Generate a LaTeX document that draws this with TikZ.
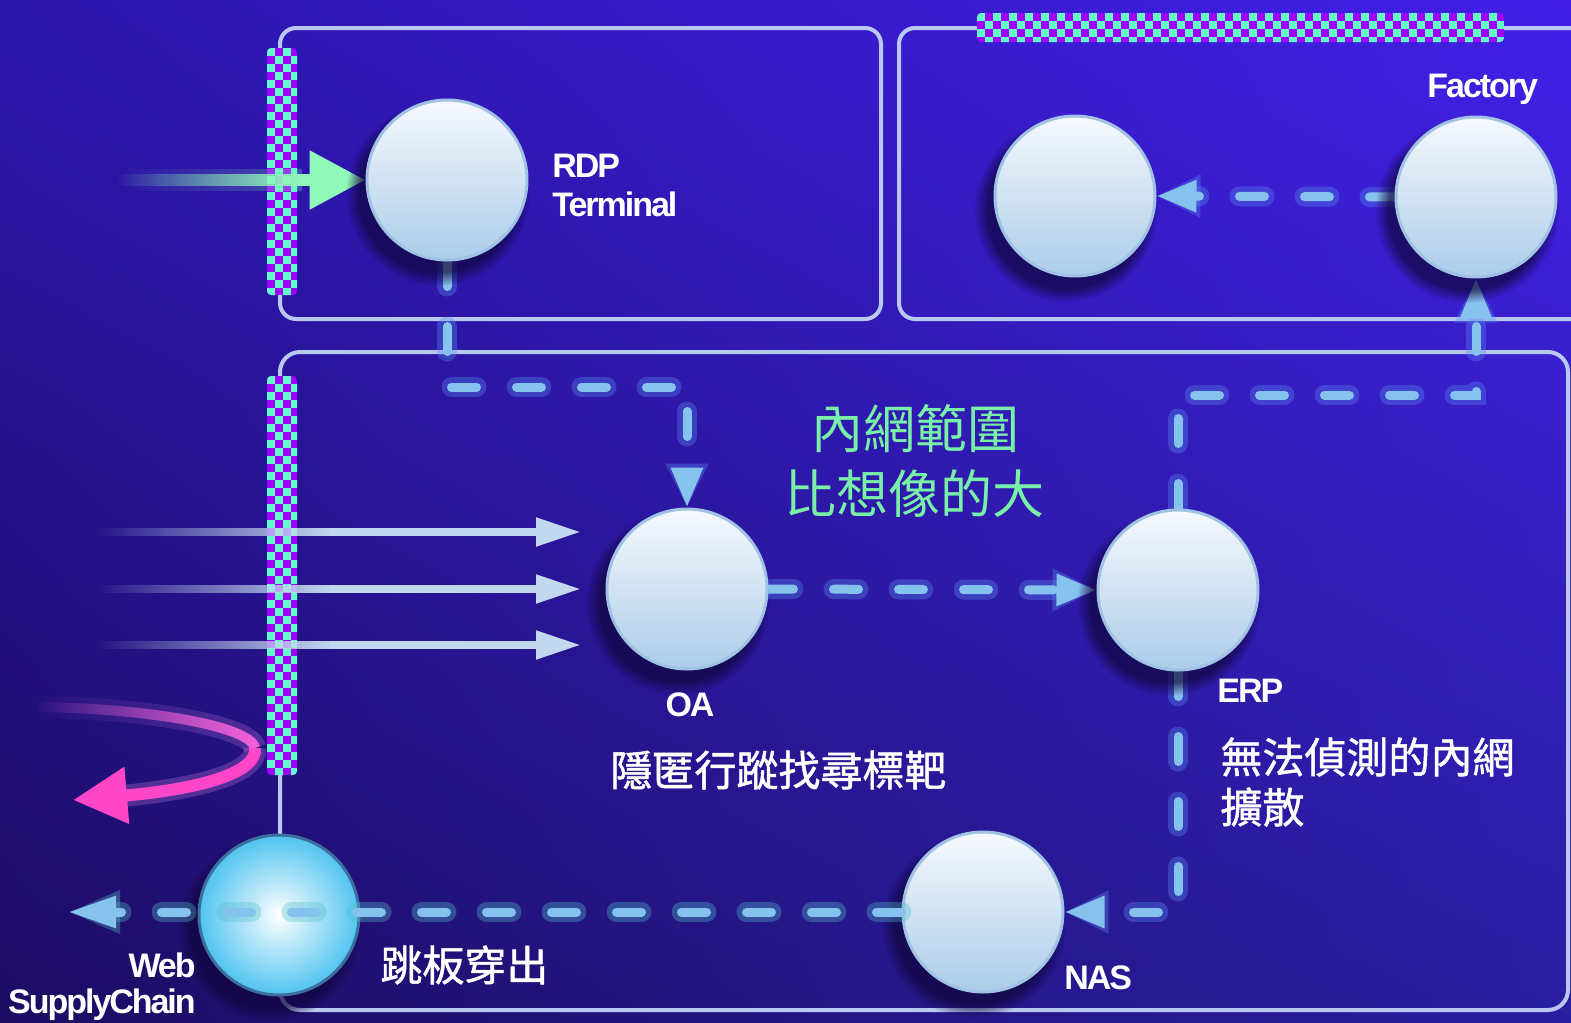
\documentclass[tikz,border=0pt]{standalone}
\usepackage{fontspec}
\setmainfont{Liberation Sans}
\newfontfamily\lab[LetterSpace=-6]{Liberation Sans}
\newfontfamily\cjk{Noto Sans CJK TC}
\newfontfamily\cjkb[FakeBold=1.2]{Noto Sans CJK TC}
\usetikzlibrary{arrows.meta,fadings,shadows,shadings}
\pgfdeclarelayer{back}
\pgfdeclarelayer{lines}
\pgfdeclarelayer{front}
\pgfsetlayers{back,lines,main,front}
\definecolor{bgUL}{RGB}{44,21,172}
\definecolor{bgUR}{RGB}{66,32,232}
\definecolor{bgLL}{RGB}{28,12,98}
\definecolor{bgLR}{RGB}{42,30,160}
\definecolor{boxc}{RGB}{184,200,240}
\definecolor{conn}{RGB}{134,194,238}
\definecolor{glowc}{RGB}{90,140,240}
\definecolor{glowt}{RGB}{80,190,200}
\definecolor{mint}{RGB}{144,248,184}
\definecolor{aqua}{RGB}{98,255,204}
\definecolor{purp}{RGB}{160,0,255}
\definecolor{greentext}{RGB}{120,240,168}
\definecolor{warr}{RGB}{194,216,238}
\definecolor{pinkc}{RGB}{255,70,200}
\definecolor{pinkl}{RGB}{230,140,240}
\definecolor{nodetop}{RGB}{246,249,253}
\definecolor{nodebot}{RGB}{172,204,233}
\definecolor{nodeedge}{RGB}{160,194,228}
\definecolor{webout}{RGB}{80,196,240}
\definecolor{webedge}{RGB}{60,110,160}
\definecolor{shadowc}{RGB}{16,6,60}
\tikzfading[name=fadeR, left color=transparent!100, right color=transparent!0]
\newcommand\chkbar[4]{%
  \begin{scope}
    \clip[rounded corners=2pt] (#1,#2) rectangle ++(#3,#4);
    \fill[purp] (#1,#2) rectangle ++(#3,#4);
    \pgfmathtruncatemacro\ncols{ceil(#3/8)-1}
    \pgfmathtruncatemacro\nrows{ceil(#4/8)-1}
    \foreach \i in {0,...,\ncols}{\foreach \j in {0,...,\nrows}{%
      \pgfmathtruncatemacro\kk{mod(\i+\j,2)}%
      \ifnum\kk=0 \fill[aqua] ({#1+8*\i},{#2+8*\j}) rectangle ++(8,8);\fi}}
  \end{scope}}
\tikzset{
  sphere/.style={circle, minimum size=80pt, inner sep=0pt, top color=nodetop,
    bottom color=nodebot, draw=nodeedge, line width=1.5pt,
    circular drop shadow={shadow xshift=-4pt, shadow yshift=-6pt, shadow scale=1.15, fill=shadowc, opacity=0.7}},
  websphere/.style={circle, minimum size=80pt, inner sep=0pt, inner color=white,
    outer color=webout, draw=webedge, line width=1.5pt,
    circular drop shadow={shadow xshift=-4pt, shadow yshift=-6pt, shadow scale=1.15, fill=shadowc, opacity=0.7}},
  zone/.style={draw=boxc, line width=2pt, rounded corners=8pt},
  link/.style={draw=conn, line width=4.5pt, line cap=round, dash pattern=on 12.5pt off 20pt,
    -{Triangle[length=20pt,width=15pt]}},
  linkglow/.style={draw=glowc, line width=10pt, line cap=round, opacity=0.35,
    dash pattern=on 12.5pt off 20pt, -{Triangle[length=22pt,width=20pt]}},
  lbl/.style={text=white, inner sep=0pt, font=\lab\bfseries\fontsize{17pt}{19pt}\selectfont},
  cjkg/.style={text=greentext, inner sep=0pt, font=\cjk\fontsize{26pt}{30pt}\selectfont},
  cjkw/.style={text=white, inner sep=0pt, font=\cjkb\fontsize{21pt}{26pt}\selectfont},
}
\begin{document}
\begin{tikzpicture}[x=0.5pt,y=-0.5pt]
\useasboundingbox (0,0) rectangle (1571,1023);
\clip (0,0) rectangle (1571,1023);
% nodes
\node[sphere] (rdp) at (447,180) {};
\node[sphere] (fl) at (1075,196) {};
\node[sphere] (fr) at (1476,197) {};
\node[sphere] (oa) at (687,589) {};
\node[sphere] (erp) at (1178,590) {};
\node[sphere] (nas) at (983,912) {};
\node[websphere] (web) at (279,915) {};
% labels
\node[lbl, anchor=base west] (tRDP) at (552,177) {RDP};
\node[lbl, anchor=base west] (tTerm) at (552,216) {Terminal};
\node[lbl, anchor=base west] (tFac) at (1427,97) {Factory};
\node[lbl, anchor=base] (tOA) at (690,716) {OA};
\node[lbl, anchor=base west] (tERP) at (1217,702) {ERP};
\node[lbl, anchor=base west] (tNAS) at (1064,989) {NAS};
\node[lbl, anchor=base east] (tWeb) at (196,977) {Web};
\node[lbl, anchor=base east] (tSC) at (196,1013) {SupplyChain};
\node[cjkg, anchor=base] (g1) at (915,448) {內網範圍};
\node[cjkg, anchor=base] (g2) at (914,513) {比想像的大};
\node[cjkw, anchor=base west] (w1) at (610,786) {隱匿行蹤找尋標靶};
\node[cjkw, anchor=base west] (w2) at (1220,773) {無法偵測的內網};
\node[cjkw, anchor=base west] (w3) at (1220,823) {擴散};
\node[cjkw, anchor=base west] (w4) at (380,981) {跳板穿出};
% background, zones, bars
\begin{pgfonlayer}{back}
\shade[upper left=bgUL, upper right=bgUR, lower left=bgLL, lower right=bgLR] (0,0) rectangle (1571,1023);
\draw[zone] (280,28) rectangle (881,319);
\draw[zone] (899,28) rectangle (1600,319);
\draw[zone, rounded corners=10pt] (280,352) rectangle (1568,1010);
\chkbar{267}{48}{30}{247}
\chkbar{267}{376}{30}{399}
\chkbar{977}{13}{527}{29}
\end{pgfonlayer}
% connectors
\coordinate (a1) at (447,387);
\coordinate (a2) at (oa.north |- a1);
\coordinate (b1) at (1178,395);
\coordinate (b2) at (fr.south |- b1);
\coordinate (c1) at (1178,912);
\coordinate (wout) at (68,912);
\begin{pgfonlayer}{lines}
\draw[linkglow] (rdp.south) -- (a1) -- (a2) -- (oa.north);
\draw[link] (rdp.south) -- (a1) -- (a2) -- (oa.north);
\draw[linkglow] (oa.east) -- (erp.west);
\draw[link] (oa.east) -- (erp.west);
\draw[linkglow] (erp.north) -- (b1) -- (b2) -- (fr.south);
\draw[link] (erp.north) -- (b1) -- (b2) -- (fr.south);
\draw[linkglow] (fr.west) -- (fl.east);
\draw[link] (fr.west) -- (fl.east);
\draw[linkglow] (erp.south) -- (c1) -- (nas.east);
\draw[link] (erp.south) -- (c1) -- (nas.east);
% green input arrow
\coordinate (gin) at (115,180);
\coordinate (gmid) at (300,180);
\fill[mint, opacity=0.25, path fading=fadeR] (gin) ++(0,-11) rectangle (302,191);
\fill[mint, path fading=fadeR] (gin) ++(0,-6) rectangle (302,186);
\draw[mint, line width=6pt, -{Triangle[length=28pt,width=28pt]}] (gmid) -- (rdp.west);
% white input arrows
\foreach \yy/\nm in {532/i1,589/i2,645/i3}{
  \coordinate (\nm s) at (95,\yy);
  \coordinate (\nm m) at (330,\yy);
  \coordinate (\nm e) at (581,\yy);
  \fill[warr, path fading=fadeR] (\nm s) ++(0,-4) rectangle (332,\yy+4);
  \draw[warr, line width=4pt, -{Triangle[length=22.5pt,width=13.5pt]}] (\nm m) -- (\nm e);
}
% pink curved arrow
\coordinate (p0) at (38,707);
\coordinate (p1) at (255,748);
\coordinate (p2) at (73,800);
\draw[pinkl, line width=11pt, opacity=0.25, path fading=fadeR] (p0) .. controls (140,708) and (250,725) .. (p1);
\draw[pinkl, line width=11pt, opacity=0.25] (p1) .. controls (258,775) and (190,790) .. (112,797);
\draw[pinkc!60!pinkl, line width=5pt, path fading=fadeR] (p0) .. controls (140,708) and (250,725) .. (p1);
\draw[pinkc, line width=6pt, -{Triangle[length=27pt,width=27pt]}] (p1) .. controls (258,775) and (190,790) .. (p2);
\end{pgfonlayer}
\begin{pgfonlayer}{front}
\draw[draw=glowt, line width=10pt, line cap=round, opacity=0.35, dash pattern=on 12.5pt off 20pt, -{Triangle[length=26pt,width=20pt]}] (nas.west) -- (wout);
\draw[link, -{Triangle[length=24pt,width=15pt]}] (nas.west) -- (wout);
\end{pgfonlayer}
\end{tikzpicture}
\end{document}
